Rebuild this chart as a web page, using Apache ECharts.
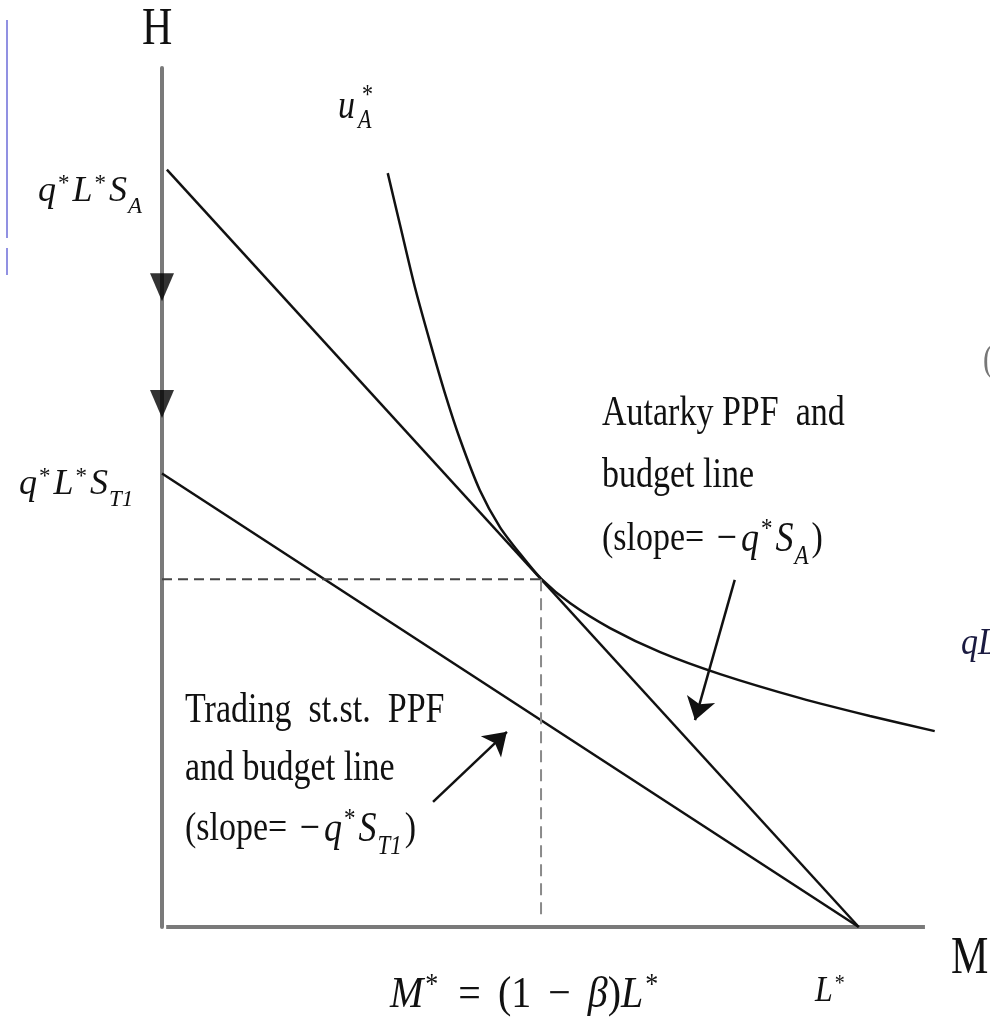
<!DOCTYPE html>
<html>
<head>
<meta charset="utf-8">
<script src="https://cdn.jsdelivr.net/npm/echarts@6/dist/echarts.min.js"></script>
<style>
  html, body { margin: 0; padding: 0; background: #fff; }
  #chart { width: 990px; height: 1033px; }
</style>
</head>
<body>
<div id="chart"></div>
<script>
// Axis ranges (M on x, H on y); L* sits at M = 100
const xRange = [0, 111];
const mAxisEnd = 109.5;     // where the drawn M axis stops
const yRange = [0, 125];

// Autarky PPF / budget line, from q*L*S_A down to L*
const autarkyPPF = [[0.7, 110.2], [100, 0]];
// Trading steady-state PPF / budget line, from q*L*S_T1 down to L*
const tradingPPF = [[0, 66], [100, 0]];
// Indifference curve u*_A, tangent to the autarky line at M*
const indifferenceUA = [
  [32.4, 109.7], [34.2, 102.0], [36.3, 93.1], [38.5, 85.0], [40.6, 77.7],
  [42.8, 70.9], [45.6, 63.6], [48.5, 58.2], [51.4, 54.3], [54.4, 50.7],
  [58.6, 47.1], [64.3, 43.5], [71.5, 40.0], [80.1, 36.8], [91.6, 33.3],
  [101.6, 30.7], [110.9, 28.5]
];
// Autarky optimum: M* = (1 - beta) L*
const tangency = [54.4, 50.6];
const dashedFloor = 1.3;
// Downward shift markers on the H axis
const shiftMarkersH = [93.1, 76.1];
// Pointer arrows from the captions to the lines
const autarkyPointer = [[82.2, 50.5], [76.5, 30.1]];
const tradingPointer = [[38.9, 18.2], [49.5, 28.4]];

// Captions
const autarkyCaption = ['Autarky PPF  and', 'budget line'];
const tradingCaption = ['Trading  st.st.  PPF', 'and budget line'];

const SERIF = '"Liberation Serif", "Times New Roman", serif';
const INK = '#111';
const AXIS_GREY = '#7a7a7a';

// text placed by its left edge and baseline, stretched vertically by k
function txt(x, baseline, size, content, extra) {
  const o = Object.assign({ italic: false, rich: null, fill: INK, k: 1.25 }, extra || {});
  return {
    type: 'text',
    x: x,
    y: baseline - 0.3375 * size * o.k,
    scaleY: o.k,
    silent: true,
    style: {
      text: content,
      font: (o.italic ? 'italic ' : '') + size + 'px ' + SERIF,
      fill: o.fill,
      align: 'left', textAlign: 'left',
      verticalAlign: 'middle', textVerticalAlign: 'middle',
      rich: o.rich || undefined
    }
  };
}

// rich styles for inline math: italic letters, raised stars, lowered subscripts
function mathRich(size, textSize, opPad) {
  const small = Math.round(size * 0.64);
  const raise = 0.34 * size;
  const drop = 0.3 * size;
  const supPad = Math.max(0, Math.round(2 * (0.3375 * small - 0.3375 * size + raise)));
  const subPad = Math.max(0, Math.round(2 * (0.3375 * size + drop - 0.3375 * small)));
  const base = { fontFamily: SERIF, fill: INK, color: INK };
  return {
    m: Object.assign({ fontStyle: 'italic', fontSize: size }, base),
    r: Object.assign({ fontSize: textSize || size }, base),
    op: Object.assign({ fontSize: size, padding: [0, opPad || 4, 0, opPad || 4] }, base),
    sup: Object.assign({ fontSize: small, padding: [0, 3, supPad, 2] }, base),
    sub: Object.assign({ fontStyle: 'italic', fontSize: small, padding: [subPad, 3, 0, 1] }, base)
  };
}

const chart = echarts.init(document.getElementById('chart'), null, { renderer: 'canvas' });

const axisCommon = {
  type: 'value',
  axisLine: { show: true, onZero: false, lineStyle: { color: AXIS_GREY, width: 4 } },
  axisTick: { show: false },
  axisLabel: { show: false },
  splitLine: { show: false }
};

const lineStyleBase = { color: INK, width: 2.5 };

const option = {
  animation: false,
  backgroundColor: '#fff',
  grid: { left: 162, right: 54.6, top: 68, bottom: 106 },
  xAxis: Object.assign({}, axisCommon, {
    min: xRange[0], max: xRange[1], axisLine: { show: false }
  }),
  yAxis: Object.assign({}, axisCommon, { min: yRange[0], max: yRange[1] }),
  series: [
    {
      // the M axis itself
      name: 'mAxis', type: 'line', data: [[0.6, 0], [mAxisEnd, 0]], showSymbol: false, clip: false,
      lineStyle: { color: AXIS_GREY, width: 4 }, z: 1
    },
    {
      name: 'autarky', type: 'line', data: autarkyPPF, showSymbol: false, clip: false,
      lineStyle: lineStyleBase
    },
    {
      name: 'trading', type: 'line', data: tradingPPF, showSymbol: false, clip: false,
      lineStyle: lineStyleBase
    },
    {
      name: 'uA', type: 'line', data: indifferenceUA, showSymbol: false, clip: false,
      smooth: 0.25, lineStyle: lineStyleBase
    },
    {
      name: 'dashH', type: 'line', data: [[0, tangency[1]], tangency], showSymbol: false,
      lineStyle: { color: '#444', width: 2, type: [10, 6] }
    },
    {
      name: 'dashV', type: 'line', data: [tangency, [tangency[0], dashedFloor]], showSymbol: false,
      lineStyle: { color: '#8a8a8a', width: 2, type: [12, 7] }
    },
    {
      name: 'shift', type: 'scatter', clip: false,
      data: shiftMarkersH.map(v => [0, v]),
      symbol: 'triangle', symbolRotate: 180, symbolSize: [24, 28],
      itemStyle: { color: '#000' }, z: 5
    },
    {
      name: 'pointers', type: 'lines', coordinateSystem: 'cartesian2d', clip: false,
      symbol: ['none', 'arrow'], symbolSize: 22,
      lineStyle: { color: INK, width: 2.5, opacity: 1 },
      data: [{ coords: autarkyPointer }, { coords: tradingPointer }]
    }
  ],
  graphic: [
    // stray rule at the left edge
    { type: 'line', silent: true, shape: { x1: 7, y1: 20, x2: 7, y2: 238 }, style: { stroke: '#6d6dd8', lineWidth: 1.5 } },
    { type: 'line', silent: true, shape: { x1: 7, y1: 248, x2: 7, y2: 275 }, style: { stroke: '#6d6dd8', lineWidth: 1.5 } },

    // axis titles
    txt(142, 48, 42, 'H'),
    txt(951, 977, 42, 'M'),

    // u*_A
    txt(338, 121, 34, 'u', { italic: true }),
    txt(362, 105, 22, '*'),
    txt(358, 130, 22, 'A', { italic: true }),

    // intercepts on the H axis
    txt(38, 204, 36, '{m|q}{sup|*}{m|L}{sup|*}{m|S}{sub|A}', { k: 1, rich: mathRich(36) }),
    txt(19, 497, 36, '{m|q}{sup|*}{m|L}{sup|*}{m|S}{sub|T1}', { k: 1, rich: mathRich(36) }),

    // autarky caption
    txt(602, 428, 34, autarkyCaption[0]),
    txt(602, 490, 34, autarkyCaption[1]),
    txt(602, 553, 34, '{r|(slope= }{op|−}{m|q}{sup|*}{m|S}{sub|A}{r|)}',
        { k: 1.2, rich: mathRich(36, 34, 4) }),

    // trading caption
    txt(185, 725, 34, tradingCaption[0]),
    txt(185, 783, 34, tradingCaption[1]),
    txt(185, 843, 34, '{r|(slope= }{op|−}{m|q}{sup|*}{m|S}{sub|T1}{r|)}',
        { k: 1.2, rich: mathRich(36, 34, 4) }),

    // labels under the M axis
    txt(390, 1010, 40, '{m|M}{sup|*}{op|=}{r|(1}{op|−}{m|β}{r|)}{m|L}{sup|*}',
        { k: 1.1, rich: mathRich(40, 40, 17) }),
    txt(815, 1004, 32, '{m|L}{sup|*}', { k: 1.15, rich: mathRich(32) }),

    // fragments cut off by the right edge
    txt(983, 374, 30, '(', { fill: '#777' }),
    txt(961, 657, 34, 'qL', { italic: true, fill: '#1a1a40', k: 1.1 })
  ]
};

chart.setOption(option);
</script>
</body>
</html>
